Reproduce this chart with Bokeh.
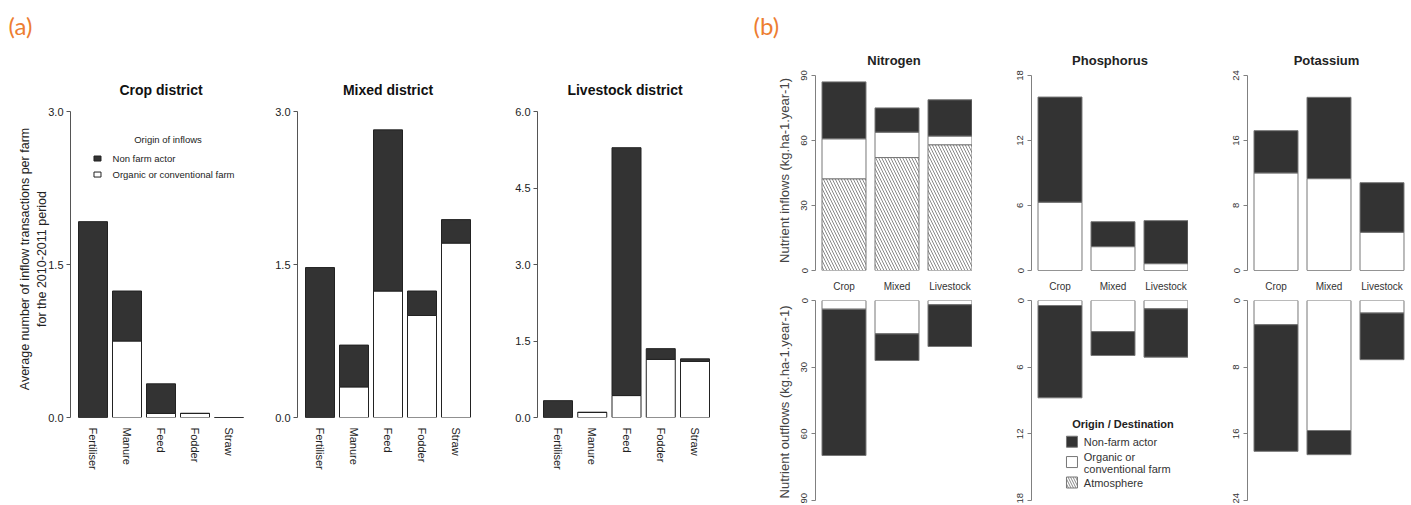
from bokeh.plotting import figure
from bokeh.layouts import row, column
from bokeh.models import Range1d, FixedTicker, NumeralTickFormatter
from bokeh.core.properties import value
from bokeh.embed import file_html
from bokeh.resources import INLINE

FONT = "Liberation Sans"
DARK = "#333333"

# ---------------- Panel (a) data: average number of inflow transactions per farm
goods = ["Fertiliser", "Manure", "Feed", "Fodder", "Straw"]
crop_farm = [0.0, 0.75, 0.04, 0.04, 0.0]
crop_nonfarm = [1.92, 0.49, 0.29, 0.0, 0.0]
mixed_farm = [0.0, 0.30, 1.24, 1.00, 1.71]
mixed_nonfarm = [1.47, 0.41, 1.58, 0.24, 0.23]
live_farm = [0.0, 0.10, 0.43, 1.14, 1.10]
live_nonfarm = [0.33, 0.0, 4.86, 0.21, 0.05]
ticks_a3 = [0, 1.5, 3.0]
ticks_a6 = [0, 1.5, 3.0, 4.5, 6.0]

# ---------------- Panel (b) data: nutrient flows (kg/ha/year)
districts = ["Crop", "Mixed", "Livestock"]
n_in_atm = [42.3, 52.1, 58.0]
n_in_farm = [18.45, 11.7, 4.0]
n_in_nonfarm = [26.25, 11.2, 16.75]
n_out_farm = [3.9, 15.0, 1.9]
n_out_nonfarm = [65.85, 12.0, 18.8]
p_in_atm = [0.0, 0.0, 0.0]
p_in_farm = [6.3, 2.2, 0.63]
p_in_nonfarm = [9.7, 2.3, 3.97]
p_out_farm = [0.45, 2.8, 0.75]
p_out_nonfarm = [8.31, 2.15, 4.35]
k_in_atm = [0.0, 0.0, 0.0]
k_in_farm = [12.0, 11.3, 4.7]
k_in_nonfarm = [5.2, 10.0, 6.1]
k_out_farm = [2.9, 15.6, 1.5]
k_out_nonfarm = [15.2, 2.9, 5.6]
ticks_n = [0, 30, 60, 90]
ticks_p = [0, 6, 12, 18]
ticks_k = [0, 8, 16, 24]


def cum(*series):
    run = [0.0] * len(series[0])
    out = []
    for s in series:
        b = list(run)
        run = [r + v for r, v in zip(run, s)]
        out.append((b, list(run)))
    return out


def base(p):
    p.grid.visible = False
    p.background_fill_color = "white"
    p.border_fill_color = "white"


# ---------------- Panel (a)
def make_a(title, farm, nonfarm, ticks, width, left, px_unit, first_off, t_off, ylabel=None):
    frame_w = width - left
    x0 = -first_off / px_unit
    x1 = x0 + frame_w / px_unit
    p = figure(width=width, height=458, x_range=Range1d(x0, x1),
               y_range=Range1d(0, ticks[-1] * 317 / 306),
               min_border_left=left, min_border_right=0, min_border_top=55,
               min_border_bottom=86, output_backend="svg", toolbar_location=None,
               outline_line_color=None, title=title)
    base(p)
    xs = list(range(len(goods)))
    bw = 29 / px_unit
    (fb, ft), (nb, nt) = cum(farm, nonfarm)
    p.vbar(x=xs, width=bw, bottom=fb, top=ft, fill_color="white", line_color="#222222", line_width=1)
    p.vbar(x=xs, width=bw, bottom=nb, top=nt, fill_color=DARK, line_color="#222222", line_width=1)
    p.title.align = "center"
    p.title.offset = t_off
    p.title.standoff = 5
    p.title.text_font = FONT
    p.title.text_font_size = "14px"
    p.title.text_font_style = "bold"
    p.title.text_color = "#111111"
    ya = p.yaxis[0]
    ya.ticker = FixedTicker(ticks=ticks)
    ya.bounds = (0, ticks[-1])
    ya.formatter = NumeralTickFormatter(format="0.0")
    ya.axis_line_color = "#555555"
    ya.major_tick_line_color = "#555555"
    ya.minor_tick_line_color = None
    ya.major_tick_out = 4
    ya.major_tick_in = 0
    ya.major_label_standoff = 3
    ya.major_label_text_font = FONT
    ya.major_label_text_font_size = "11px"
    ya.major_label_text_color = "#222222"
    if ylabel:
        ya.axis_label = ylabel
        ya.axis_label_text_font = FONT
        ya.axis_label_text_font_size = "12.5px"
        ya.axis_label_text_font_style = "normal"
        ya.axis_label_text_color = "#222222"
        ya.axis_label_standoff = -4
    xa = p.xaxis[0]
    xa.ticker = FixedTicker(ticks=xs)
    xa.major_label_overrides = {i: g for i, g in enumerate(goods)}
    xa.axis_line_color = None
    xa.major_tick_line_color = None
    xa.minor_tick_line_color = None
    xa.major_label_orientation = "vertical"
    xa.major_label_standoff = 4
    xa.major_label_text_font = FONT
    xa.major_label_text_font_size = "11px"
    xa.major_label_text_color = "#222222"
    return p


a1 = make_a("Crop district", crop_farm, crop_nonfarm, ticks_a3, 251, 70, 34.0, 22.5, 8,
            "Average number of inflow transactions per farm\nfor the 2010-2011 period")
a2 = make_a("Mixed district", mixed_farm, mixed_nonfarm, ticks_a3, 227, 46, 34.0, 22.5, 8)
a3 = make_a("Livestock district", live_farm, live_nonfarm, ticks_a6, 234, 59, 34.25, 20.5, 2)

# legend of panel (a)
a1.text(x=[2.206], y=[2.725], text=["Origin of inflows"], text_font=value(FONT),
        text_font_size="9.5px", text_align="center", text_baseline="middle", text_color="#222222")
a1.rect(x=[0.132], y=[2.539], width=7, height=5, width_units="screen", height_units="screen",
        fill_color=DARK, line_color="#222222")
a1.rect(x=[0.132], y=[2.382], width=7, height=5, width_units="screen", height_units="screen",
        fill_color="white", line_color="#222222")
a1.text(x=[0.574, 0.574], y=[2.539, 2.382], text=["Non farm actor", "Organic or conventional farm"],
        text_font=value(FONT), text_font_size="9.5px", text_align="left", text_baseline="middle",
        text_color="#222222")

# ---------------- Panel (b)
PXU = 53.0
GRAY = "#808080"
BAR_LINE = "#777777"
UP_H, LOW_H = 249, 209


def style_y(p, ticks, ylabel):
    ya = p.yaxis[0]
    ya.ticker = FixedTicker(ticks=ticks)
    ya.bounds = (0, ticks[-1])
    ya.axis_line_color = GRAY
    ya.major_tick_line_color = GRAY
    ya.minor_tick_line_color = None
    ya.major_tick_out = 4
    ya.major_tick_in = 0
    ya.major_label_standoff = 4
    ya.major_label_orientation = "vertical"
    ya.major_label_text_font = FONT
    ya.major_label_text_font_size = "9.5px"
    ya.major_label_text_color = "#333333"
    if ylabel:
        ya.axis_label = ylabel
        ya.axis_label_text_font = FONT
        ya.axis_label_text_font_size = "13px"
        ya.axis_label_text_font_style = "normal"
        ya.axis_label_text_color = "#444444"
        ya.axis_label_standoff = 7


def make_b_up(title, atm, farm, nonfarm, ticks, width, left, t_off, ylabel=None):
    x0 = -28.5 / PXU
    x1 = x0 + (width - left) / PXU
    p = figure(width=width, height=UP_H, x_range=Range1d(x0, x1),
               y_range=Range1d(0, ticks[-1] * 205 / 200),
               min_border_left=left, min_border_right=0, min_border_top=25,
               min_border_bottom=19, output_backend="svg", toolbar_location=None,
               outline_line_color=None, title=title)
    base(p)
    xs = list(range(len(districts)))
    bw = 0.83
    (ab, at), (fb, ft), (nb, nt) = cum(atm, farm, nonfarm)
    p.vbar(x=xs, width=bw, bottom=ab, top=at, fill_color="white", line_color=BAR_LINE,
           hatch_pattern="\\", hatch_color="#555555", hatch_scale=6, hatch_weight=0.7)
    p.vbar(x=xs, width=bw, bottom=fb, top=ft, fill_color="white", line_color=BAR_LINE)
    p.vbar(x=xs, width=bw, bottom=nb, top=nt, fill_color=DARK, line_color=BAR_LINE)
    p.title.align = "center"
    p.title.offset = t_off
    p.title.standoff = 5
    p.title.text_font = FONT
    p.title.text_font_size = "13px"
    p.title.text_font_style = "bold"
    p.title.text_color = "#222222"
    style_y(p, ticks, ylabel)
    xa = p.xaxis[0]
    xa.ticker = FixedTicker(ticks=xs)
    xa.major_label_overrides = {i: d for i, d in enumerate(districts)}
    xa.axis_line_color = None
    xa.major_tick_line_color = None
    xa.minor_tick_line_color = None
    xa.major_label_standoff = 4
    xa.major_label_text_font = FONT
    xa.major_label_text_font_size = "10px"
    xa.major_label_text_color = "#333333"
    return p


def make_b_low(farm, nonfarm, ticks, width, left, ylabel=None):
    x0 = -28.5 / PXU
    x1 = x0 + (width - left) / PXU
    p = figure(width=width, height=LOW_H, x_range=Range1d(x0, x1),
               y_range=Range1d(ticks[-1] * (LOW_H - 6) / 200, 0),
               min_border_left=left, min_border_right=0, min_border_top=6,
               min_border_bottom=0, output_backend="svg", toolbar_location=None,
               outline_line_color=None, title=None, x_axis_location=None)
    base(p)
    xs = list(range(len(districts)))
    (fb, ft), (nb, nt) = cum(farm, nonfarm)
    p.vbar(x=xs, width=0.83, bottom=fb, top=ft, fill_color="white", line_color=BAR_LINE)
    p.vbar(x=xs, width=0.83, bottom=nb, top=nt, fill_color=DARK, line_color=BAR_LINE)
    style_y(p, ticks, ylabel)
    return p


n_up = make_b_up("Nitrogen", n_in_atm, n_in_farm, n_in_nonfarm, ticks_n, 260, 103, 8,
                 "Nutrient inflows (kg.ha-1.year-1)")
n_lo = make_b_low(n_out_farm, n_out_nonfarm, ticks_n, 260, 103,
                  "Nutrient outflows (kg.ha-1.year-1)")
p_up = make_b_up("Phosphorus", p_in_atm, p_in_farm, p_in_nonfarm, ticks_p, 216, 59, 3.5)
p_lo = make_b_low(p_out_farm, p_out_nonfarm, ticks_p, 216, 59)
k_up = make_b_up("Potassium", k_in_atm, k_in_farm, k_in_nonfarm, ticks_k, 217, 59, 2.5)
k_lo = make_b_low(k_out_farm, k_out_nonfarm, ticks_k, 217, 59)

# legend of panel (b), inside the phosphorus outflow plot
p_lo.text(x=[0.23], y=[11.10], text=["Origin / Destination"], text_font=value(FONT),
          text_font_size="11px", text_font_style="bold", text_align="left",
          text_baseline="middle", text_color="#222222")
p_lo.rect(x=[0.226], y=[12.71], width=11, height=11, width_units="screen", height_units="screen",
          fill_color=DARK, line_color=BAR_LINE)
p_lo.rect(x=[0.226], y=[14.54], width=11, height=11, width_units="screen", height_units="screen",
          fill_color="white", line_color=BAR_LINE)
p_lo.rect(x=[0.226], y=[16.38], width=11, height=11, width_units="screen", height_units="screen",
          fill_color="white", line_color=BAR_LINE, hatch_pattern="\\", hatch_color="#555555",
          hatch_scale=5, hatch_weight=0.7)
p_lo.text(x=[0.449] * 4, y=[12.74, 14.10, 15.15, 16.41],
          text=["Non-farm actor", "Organic or", "conventional farm", "Atmosphere"],
          text_font=value(FONT), text_font_size="11px", text_align="left",
          text_baseline="middle", text_color="#333333")

# ---------------- header with the panel letters
hdr = figure(width=1405, height=45, x_range=Range1d(0, 1405), y_range=Range1d(0, 45),
             x_axis_location=None, y_axis_location=None, min_border=0,
             output_backend="svg", toolbar_location=None, outline_line_color=None)
base(hdr)
hdr.text(x=[8, 753], y=[20, 20], text=["(a)", "(b)"], text_font=value("Lato"),
         text_font_size="24px", text_color="#ED7D31", text_align="left", text_baseline="middle")

layout = column(hdr, row(a1, a2, a3, column(n_up, n_lo), column(p_up, p_lo), column(k_up, k_lo)))

open("out.html", "w").write(file_html(layout, INLINE))
